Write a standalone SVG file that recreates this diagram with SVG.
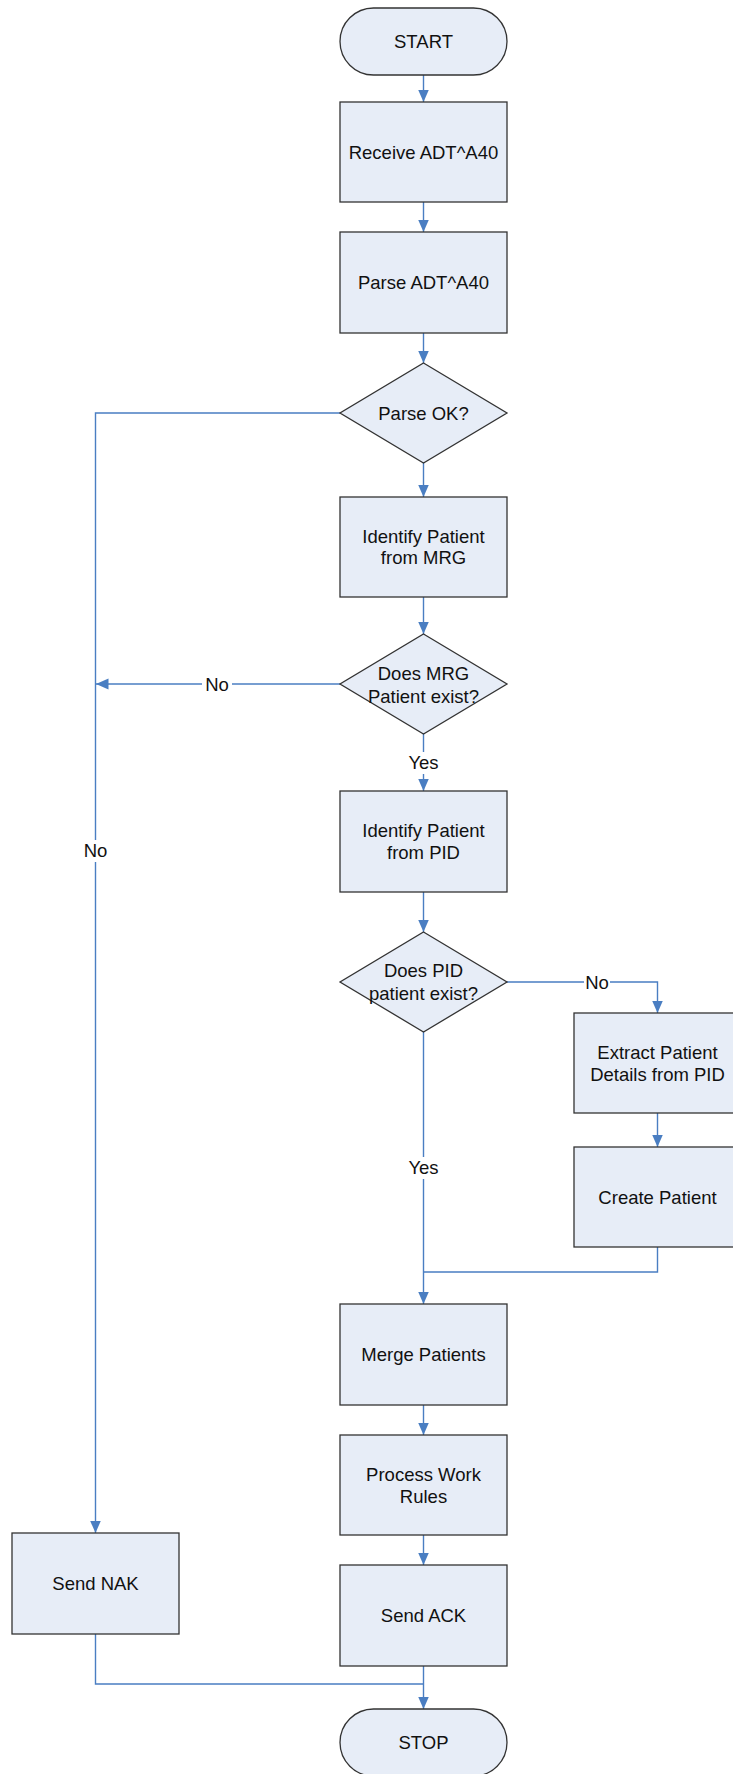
<svg xmlns="http://www.w3.org/2000/svg" width="733" height="1774" viewBox="0 0 733 1774">
<style>
.n{fill:#E7EDF7;stroke:#333;stroke-width:1.3}
.t{font-family:"Liberation Sans",Arial,sans-serif;font-size:18.5px;fill:#111;text-anchor:middle}
.c{fill:none;stroke:#4A7EC2;stroke-width:1.4}
.bg{fill:#fff}
</style>
<defs>
<marker id="ah" markerUnits="userSpaceOnUse" markerWidth="13" markerHeight="12" refX="12.5" refY="6" orient="auto" viewBox="0 0 13 12">
<path d="M0,0.5 L12.5,6 L0,11.5 z" fill="#4A7EC2"/>
</marker>
</defs>
<rect width="733" height="1774" fill="#fff"/>
<g id="connectors">
<path class="c" d="M423.5,75 V102" marker-end="url(#ah)"/>
<path class="c" d="M423.5,202 V232" marker-end="url(#ah)"/>
<path class="c" d="M423.5,333 V363" marker-end="url(#ah)"/>
<path class="c" d="M423.5,463 V497" marker-end="url(#ah)"/>
<path class="c" d="M340,413 H95.5 V1533" marker-end="url(#ah)"/>
<path class="c" d="M423.5,597 V634" marker-end="url(#ah)"/>
<path class="c" d="M340,684 H96" marker-end="url(#ah)"/>
<path class="c" d="M423.5,734 V791" marker-end="url(#ah)"/>
<path class="c" d="M423.5,892 V932" marker-end="url(#ah)"/>
<path class="c" d="M507,982 H657.5 V1013" marker-end="url(#ah)"/>
<path class="c" d="M657.5,1113 V1147" marker-end="url(#ah)"/>
<path class="c" d="M423.5,1032 V1304" marker-end="url(#ah)"/>
<path class="c" d="M657.5,1247 V1272 H423.5"/>
<path class="c" d="M423.5,1405 V1435" marker-end="url(#ah)"/>
<path class="c" d="M423.5,1535 V1565" marker-end="url(#ah)"/>
<path class="c" d="M423.5,1666 V1709" marker-end="url(#ah)"/>
<path class="c" d="M95.5,1634 V1684 H423.5"/>
<rect class="bg" x="202" y="673" width="30" height="22"/>
<text class="t" x="217" y="690.5">No</text>
<rect class="bg" x="82" y="840" width="28" height="22"/>
<text class="t" x="95.5" y="857">No</text>
<rect class="bg" x="407" y="752" width="33" height="22"/>
<text class="t" x="423.5" y="769">Yes</text>
<rect class="bg" x="407" y="1157" width="33" height="22"/>
<text class="t" x="423.5" y="1174">Yes</text>
<rect class="bg" x="584" y="971" width="26" height="22"/>
<text class="t" x="597" y="988.5">No</text>
</g>
<g id="start">
<rect class="n" x="340" y="8" width="167" height="67" rx="33.5" ry="33.5"/>
<text class="t" x="423.5" y="48">START</text>
</g>
<g id="receive">
<rect class="n" x="340" y="102" width="167" height="100"/>
<text class="t" x="423.5" y="158.5">Receive ADT^A40</text>
</g>
<g id="parse">
<rect class="n" x="340" y="232" width="167" height="101"/>
<text class="t" x="423.5" y="289">Parse ADT^A40</text>
</g>
<g id="parse-ok">
<polygon class="n" points="423.5,363 507,413 423.5,463 340,413"/>
<text class="t" x="423.5" y="419.5">Parse OK?</text>
</g>
<g id="identify-mrg">
<rect class="n" x="340" y="497" width="167" height="100"/>
<text class="t" x="423.5" y="542.5">Identify Patient</text>
<text class="t" x="423.5" y="564">from MRG</text>
</g>
<g id="mrg-exist">
<polygon class="n" points="423.5,634 507,684 423.5,734 340,684"/>
<text class="t" x="423.5" y="679.5">Does MRG</text>
<text class="t" x="423.5" y="702.5">Patient exist?</text>
</g>
<g id="identify-pid">
<rect class="n" x="340" y="791" width="167" height="101"/>
<text class="t" x="423.5" y="836.5">Identify Patient</text>
<text class="t" x="423.5" y="858.5">from PID</text>
</g>
<g id="pid-exist">
<polygon class="n" points="423.5,932 507,982 423.5,1032 340,982"/>
<text class="t" x="423.5" y="977">Does PID</text>
<text class="t" x="423.5" y="999.5">patient exist?</text>
</g>
<g id="extract">
<rect class="n" x="574" y="1013" width="167" height="100"/>
<text class="t" x="657.5" y="1058.5">Extract Patient</text>
<text class="t" x="657.5" y="1080.5">Details from PID</text>
</g>
<g id="create">
<rect class="n" x="574" y="1147" width="167" height="100"/>
<text class="t" x="657.5" y="1203.5">Create Patient</text>
</g>
<g id="merge">
<rect class="n" x="340" y="1304" width="167" height="101"/>
<text class="t" x="423.5" y="1360.5">Merge Patients</text>
</g>
<g id="process">
<rect class="n" x="340" y="1435" width="167" height="100"/>
<text class="t" x="423.5" y="1480.5">Process Work</text>
<text class="t" x="423.5" y="1502.5">Rules</text>
</g>
<g id="send-ack">
<rect class="n" x="340" y="1565" width="167" height="101"/>
<text class="t" x="423.5" y="1621.5">Send ACK</text>
</g>
<g id="send-nak">
<rect class="n" x="12" y="1533" width="167" height="101"/>
<text class="t" x="95.5" y="1590">Send NAK</text>
</g>
<g id="stop">
<rect class="n" x="340" y="1709" width="167" height="67" rx="33.5" ry="33.5"/>
<text class="t" x="423.5" y="1749">STOP</text>
</g>
</svg>
